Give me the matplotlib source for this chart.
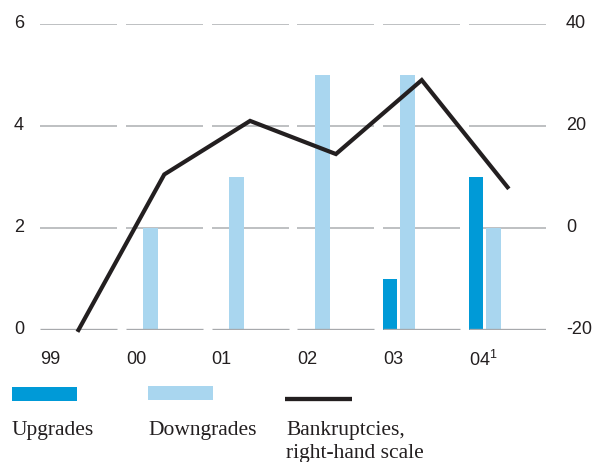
import matplotlib
matplotlib.use("Agg")
import matplotlib.pyplot as plt
from matplotlib.patches import Rectangle
from matplotlib.lines import Line2D

years = ["99", "00", "01", "02", "03", "04"]
upgrades = [0, 0, 0, 0, 1, 3]
downgrades = [0, 2, 3, 5, 5, 2]
bankruptcies = [-20, 10.5, 21, 14.5, 29, 8]
left_ticks = [0, 2, 4, 6]
right_ticks = [-20, 0, 20, 40]

W, H = 594, 462
fig = plt.figure(figsize=(W / 100, H / 100), dpi=100)

def fx(px):
    return px / W

def fy(py):
    return 1 - py / H

sans = ["Liberation Sans", "DejaVu Sans"]
serif = ["Liberation Serif", "DejaVu Serif"]
grid_c = "#b3b5b8"
base_c = "#a7a9ac"
up_c = "#009ad7"
down_c = "#a9d6ef"
line_c = "#231f20"
text_c = "#231f20"

ax = fig.add_axes([fx(40), fy(330), fx(546) - fx(40), fy(24) - fy(330)])
ax.set_xlim(-0.448, len(years) - 1 + 0.448)
ax.set_ylim(0, 6)
for s in ax.spines.values():
    s.set_visible(False)
ax.set_xticks([])
ax.set_yticks([])

half = 0.448
for i in range(len(years)):
    for v in left_ticks:
        if v == 0:
            continue
        ax.hlines(v, i - half, i + half, color=grid_c, lw=1.2, zorder=1)

# bars sit in the left part of each segment
up_w, dn_w = 0.165, 0.175
ax.bar([i - half for i in range(len(years))], upgrades, width=up_w,
       align="edge", color=up_c, zorder=2, linewidth=0)
ax.bar([i - half + 0.2 for i in range(len(years))], downgrades, width=dn_w,
       align="edge", color=down_c, zorder=2, linewidth=0)

for i in range(len(years)):
    ax.hlines(0, i - half, i + half, color=base_c, lw=2.4, zorder=3)

for v in left_ticks:
    ax.text(-0.448 - 16 / 85.8, v, str(v), ha="right", va="center",
            fontsize=13, family=sans, color=text_c)

for i, y in enumerate(years):
    label = r"04$^{\mathregular{1}}$" if y == "04" else y
    ax.text(i - half, -0.58, label, ha="left", va="center",
            fontsize=13, family=sans, color=text_c)

ax2 = ax.twinx()
ax2.set_ylim(-20, 40)
for s in ax2.spines.values():
    s.set_visible(False)
ax2.set_xticks([])
ax2.set_yticks([])
ax2.plot(range(len(years)), bankruptcies, color=line_c, lw=3.0,
         solid_joinstyle="miter", zorder=5, clip_on=False)
for v in right_ticks:
    ax2.text(len(years) - 1 + half + 20 / 85.8, v, str(v), ha="left",
             va="center", fontsize=13, family=sans, color=text_c)

# legend
fig.add_artist(Rectangle((fx(12), fy(401)), fx(77) - fx(12), fy(387) - fy(401),
                         transform=fig.transFigure, color=up_c, lw=0))
fig.add_artist(Rectangle((fx(148), fy(400)), fx(213) - fx(148), fy(386) - fy(400),
                         transform=fig.transFigure, color=down_c, lw=0))
fig.add_artist(Line2D([fx(285), fx(352)], [fy(399), fy(399)],
                      transform=fig.transFigure, color=line_c, lw=3.1,
                      solid_capstyle="butt"))
fig.text(fx(12), fy(435), "Upgrades", ha="left", va="baseline",
         fontsize=15.5, family=serif, color=text_c)
fig.text(fx(148), fy(435), "Downgrades", ha="left", va="baseline",
         fontsize=15.5, family=serif, color=text_c)
fig.text(fx(286), fy(435), "Bankruptcies,", ha="left", va="baseline",
         fontsize=15.5, family=serif, color=text_c)
fig.text(fx(286), fy(458), "right-hand scale", ha="left", va="baseline",
         fontsize=15.5, family=serif, color=text_c)

fig.savefig("out.png", dpi=100)
